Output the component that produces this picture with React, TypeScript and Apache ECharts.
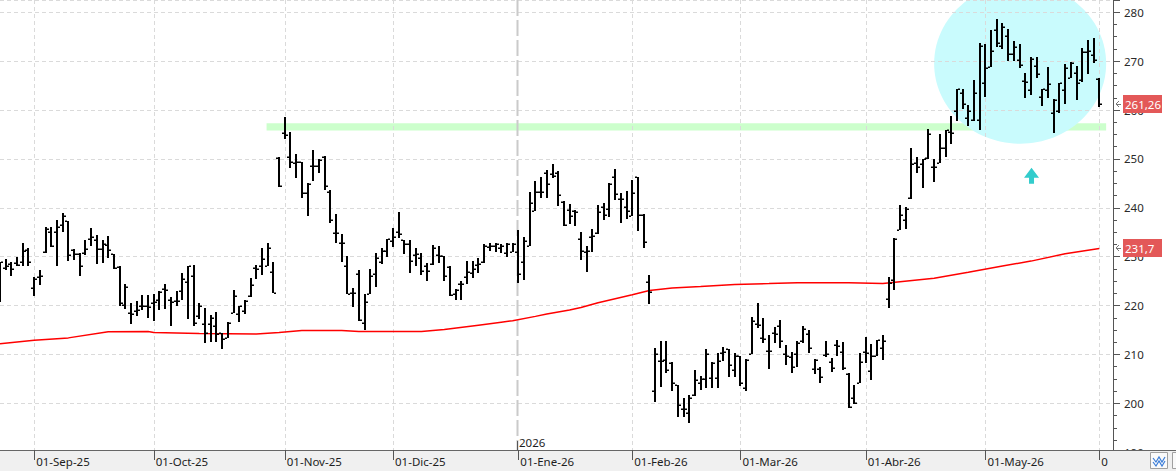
import { useEffect, useRef } from "react";
import * as echarts from "echarts";

// ---------- data (one entry per trading day) ----------
const opens = [
  221.5, 227.6, 228.5, 228.8, 229.0, 231.4, 223.7, 225.9, 230.9, 235.1,
  235.0, 236.4, 237.4, 231.4, 230.5, 230.7, 233.7, 233.4, 231.5, 232.4,
  230.5, 227.8, 220.2, 218.4, 218.8, 220.0, 219.9, 220.5, 221.2, 223.4,
  221.1, 220.9, 222.9, 224.9, 226.1, 217.8, 216.3, 216.3, 215.8, 214.3,
  213.4, 218.4, 218.2, 218.8, 221.9, 227.6, 228.1, 228.0, 226.9, 250.2,
  255.4, 250.4, 249.1, 249.4, 243.0, 248.5, 248.5, 250.3, 243.2, 234.9,
  232.8, 228.2, 222.6, 226.5, 216.5, 222.4, 226.5, 229.0, 231.2, 233.2,
  235.1, 233.5, 232.7, 230.3, 229.7, 228.0, 228.6, 230.3, 230.2, 227.8,
  222.4, 224.4, 225.8, 226.6, 228.4, 228.85, 232.0, 232.2, 231.7, 230.7,
  231.0, 231.0, 228.9, 232.2, 239.3, 243.2, 247.1, 246.9, 247.1, 241.2,
  239.5, 239.3, 233.7, 231.0, 234.0, 234.8, 240.1, 239.7, 246.4, 241.8,
  240.1, 238.3, 246.2, 238.6, 224.8, 202.6, 208.6, 208.8, 208.2, 203.8,
  198.9, 198.1, 201.7, 204.1, 205.0, 205.2, 205.2, 210.4, 211.1, 206.8,
  209.6, 203.1, 210.2, 216.2, 213.4, 210.7, 214.3, 215.8, 210.2, 209.5,
  210.2, 212.8, 214.1, 207.0, 207.0, 209.9, 208.4, 211.9, 210.6, 206.0,
  201.1, 204.1, 210.5, 206.7, 209.7, 211.4, 221.3, 225.3, 235.4, 237.6,
  242.1, 249.2, 248.9, 250.2, 248.4, 249.1, 252.3, 255.6, 259.9, 263.4,
  258.4, 257.9, 257.9, 265.6, 268.8, 276.4, 273.0, 275.1, 271.5, 270.2,
  265.9, 264.0, 269.0, 262.7, 264.0, 259.4, 259.9, 264.0, 266.5, 267.6,
  266.1, 271.9, 271.2, 266.3,
];
const highs = [
  229.0, 229.5, 228.85, 230.0, 232.8, 231.7, 225.9, 227.2, 236.0, 236.1,
  237.6, 238.9, 237.4, 231.6, 230.7, 233.5, 235.9, 234.4, 233.4, 234.3,
  230.5, 228.0, 224.4, 220.5, 220.9, 222.2, 222.2, 222.4, 222.9, 224.5,
  221.75, 222.9, 226.75, 228.1, 228.3, 220.5, 219.5, 218.0, 218.6, 214.4,
  216.6, 223.2, 220.0, 221.1, 225.6, 228.3, 231.7, 232.8, 229.0, 250.4,
  258.6, 255.6, 251.1, 249.4, 245.1, 251.8, 249.9, 250.5, 243.7, 238.7,
  234.6, 230.2, 223.7, 227.3, 222.4, 227.5, 230.7, 231.8, 233.6, 235.9,
  239.1, 233.5, 233.5, 231.7, 230.7, 228.65, 232.4, 232.2, 230.2, 228.0,
  223.4, 225.1, 229.2, 229.2, 229.7, 232.5, 232.8, 232.8, 232.5, 232.8,
  232.8, 235.5, 234.0, 243.2, 245.4, 246.4, 247.8, 248.9, 247.6, 241.3,
  240.7, 239.6, 235.1, 232.2, 235.6, 240.6, 240.95, 245.0, 247.9, 243.05,
  243.4, 245.6, 246.4, 238.8, 226.3, 211.4, 212.75, 212.75, 208.5, 203.8,
  201.1, 201.7, 206.8, 205.7, 211.1, 208.5, 210.4, 211.5, 211.1, 210.3,
  209.7, 209.0, 217.6, 220.5, 217.4, 214.0, 215.6, 217.0, 212.0, 210.5,
  212.75, 215.8, 215.0, 209.0, 207.5, 212.75, 209.2, 212.9, 212.6, 206.2,
  203.8, 210.3, 213.6, 212.1, 212.9, 214.0, 225.9, 233.8, 240.6, 240.1,
  252.3, 250.45, 250.04, 256.2, 249.9, 255.1, 256.0, 258.7, 264.4, 264.2,
  261.1, 266.1, 273.7, 273.4, 276.3, 278.6, 277.8, 276.6, 274.1, 273.6,
  267.6, 270.9, 270.9, 264.4, 268.8, 262.2, 265.6, 269.5, 269.9, 269.0,
  272.6, 274.4, 274.8, 266.5,
];
const lows = [
  220.8, 227.3, 226.1, 228.0, 228.0, 228.0, 221.9, 224.3, 230.8, 231.9,
  228.1, 235.1, 229.2, 229.3, 226.1, 230.3, 232.2, 228.6, 228.8, 229.7,
  227.5, 220.0, 219.3, 216.3, 217.8, 219.0, 217.5, 216.8, 219.0, 219.4,
  215.9, 220.0, 221.2, 217.2, 215.9, 217.2, 212.4, 212.6, 212.6, 211.1,
  213.4, 218.4, 216.6, 218.2, 221.75, 225.4, 226.3, 228.0, 222.6, 244.2,
  254.0, 248.1, 246.1, 242.0, 238.3, 245.5, 247.1, 243.7, 236.8, 232.9,
  229.0, 222.4, 219.8, 216.8, 215.0, 222.4, 223.8, 228.6, 230.0, 232.0,
  233.9, 230.5, 226.6, 228.0, 226.3, 225.1, 228.4, 228.65, 225.1, 222.0,
  221.2, 221.2, 224.4, 225.6, 226.6, 228.65, 231.1, 231.0, 230.7, 230.0,
  231.0, 224.6, 225.3, 232.2, 239.3, 242.0, 242.0, 246.0, 240.3, 236.2,
  236.6, 236.3, 229.3, 226.8, 230.9, 234.7, 237.6, 238.1, 241.5, 236.8,
  237.8, 238.3, 235.3, 231.7, 220.3, 200.2, 203.3, 206.3, 202.5, 197.3,
  197.2, 196.0, 201.5, 202.8, 203.1, 203.1, 203.1, 208.7, 205.3, 205.3,
  203.5, 202.6, 210.05, 215.5, 212.4, 207.0, 212.4, 211.3, 207.9, 206.2,
  207.4, 212.4, 210.4, 206.0, 204.1, 209.4, 206.5, 209.7, 206.8, 199.1,
  199.9, 204.1, 208.2, 204.8, 209.7, 208.9, 219.5, 223.2, 235.4, 235.7,
  241.9, 247.06, 244.0, 250.0, 245.3, 249.1, 250.4, 252.95, 257.7, 260.3,
  256.7, 257.7, 256.0, 262.7, 268.8, 272.9, 272.4, 270.1, 270.1, 268.5,
  262.4, 263.1, 266.5, 260.9, 262.4, 255.2, 259.4, 261.3, 266.5, 262.1,
  265.8, 267.4, 269.6, 260.7,
];
const closes = [
  228.9, 228.0, 227.4, 228.4, 231.2, 229.0, 225.5, 226.0, 235.7, 232.2,
  236.0, 238.4, 230.3, 230.5, 228.1, 231.5, 234.1, 231.5, 232.6, 231.4,
  227.6, 220.5, 223.9, 218.2, 219.0, 220.0, 219.7, 220.7, 222.7, 223.2,
  220.7, 220.9, 225.4, 228.0, 216.5, 220.0, 214.4, 217.5, 214.1, 213.2,
  216.5, 222.0, 219.9, 220.9, 224.2, 227.4, 229.5, 231.8, 222.6, 244.4,
  254.8, 249.3, 249.3, 243.0, 244.9, 248.5, 249.8, 244.4, 237.6, 234.9,
  232.8, 222.4, 222.5, 217.0, 220.7, 226.1, 229.7, 231.1, 233.6, 234.1,
  234.7, 232.7, 229.1, 230.5, 227.0, 227.0, 231.8, 230.2, 226.1, 222.2,
  223.2, 224.4, 226.8, 227.5, 228.6, 232.2, 232.2, 232.5, 232.2, 232.7,
  232.7, 226.4, 233.2, 241.0, 243.2, 243.2, 244.9, 246.6, 242.6, 236.4,
  238.3, 239.1, 231.2, 231.1, 234.2, 239.1, 238.5, 244.9, 242.8, 241.8,
  239.3, 243.0, 238.6, 233.0, 222.8, 210.2, 208.7, 206.8, 204.1, 199.6,
  198.9, 201.1, 204.8, 205.0, 210.2, 208.2, 208.7, 210.6, 207.9, 209.7,
  204.1, 208.8, 216.8, 216.0, 213.1, 210.7, 214.1, 212.8, 209.7, 207.5,
  212.4, 215.3, 211.3, 208.8, 205.5, 210.2, 207.2, 211.8, 207.3, 199.2,
  200.0, 208.4, 210.4, 209.7, 212.9, 212.8, 224.7, 233.6, 238.6, 239.8,
  248.9, 248.4, 249.9, 255.0, 248.4, 252.3, 255.9, 255.2, 264.2, 261.3,
  259.7, 263.4, 273.1, 268.5, 272.1, 273.7, 277.0, 271.4, 272.8, 269.2,
  265.8, 270.5, 267.3, 264.2, 265.3, 262.0, 265.5, 268.5, 269.6, 265.5,
  271.9, 272.1, 270.3, 261.26,
];

// moving average (red line), read at sample bars: [bar index, value]
const maIdx = [0, 6, 12, 19, 26, 27, 35, 45, 49, 53, 60, 63, 74, 78, 84, 88, 90, 94, 96, 100, 102, 105, 111, 114, 118, 123, 129, 135, 140, 149, 155, 158, 164, 170, 176, 181, 187, 193];
const maVal = [212.2, 212.9, 213.4, 214.65, 214.7, 214.5, 214.3, 214.2, 214.5, 214.9, 214.9, 214.7, 214.7, 215.1, 216.0, 216.6, 216.9, 217.8, 218.3, 219.1, 219.6, 220.6, 222.2, 223.1, 223.6, 223.9, 224.3, 224.5, 224.7, 224.7, 224.5, 224.9, 225.6, 226.8, 228.1, 229.1, 230.6, 231.7];

// x-axis ticks (bar index of each month start) and their labels
const monthTickIdx = [6, 27, 50, 69, 91, 111, 130, 152, 173, 193];
const monthTickLabels = ["01-Sep-25", "01-Oct-25", "01-Nov-25", "01-Dic-25", "01-Ene-26", "01-Feb-26", "01-Mar-26", "01-Abr-26", "01-May-26", "0"];
const yearLabel = "2026";
const yearBoundaryIdx = 90.7;
const yearLineTickIdx = 91;

// y-axis
const yMin = 190;
const yMax = 282.5;
const yStep = 10;

// annotations (data coordinates)
const bandFromIdx = 46.8;
const bandToIdx = 194.2;
const bandLow = 255.8;
const bandHigh = 257.3;
const ellipseCenterIdx = 179.1;
const ellipseCenterVal = 269.5;
const ellipseRadiusBars = 15.1;
const ellipseRadiusVal = 16.4;
const arrowTipIdx = 181.1;
const arrowTipVal = 248.2;

const CAT_COUNT = 196;
const categories = Array.from({ length: CAT_COUNT }, (_, i) => String(i));
const FONT = "'Noto Sans', 'Liberation Sans', Arial, sans-serif";
const FS = 11.5;

const fmt = (v: number, d: number) => v.toFixed(d).replace(".", ",");

export default function App() {
  const ref = useRef<HTMLDivElement>(null);

  useEffect(() => {
    const el = ref.current!;
    const chart = echarts.init(el, null, { renderer: "svg" });
    const tickMap = new Map<number, string>(monthTickIdx.map((i, k) => [i, monthTickLabels[k]]));

    const option: any = {
      animation: false,
      textStyle: { fontFamily: FONT },
      grid: { left: 0, right: 65.3, top: -4, bottom: 18.7, containLabel: false },
      xAxis: [
        {
          type: "category",
          data: categories,
          boundaryGap: false,
          z: 3,
          axisLine: { show: false },
          axisTick: { show: false },
          axisLabel: { show: false },
          splitLine: {
            show: true,
            interval: (i: number) => tickMap.has(i) && i !== yearLineTickIdx,
            lineStyle: { color: "#dadada", type: [4, 3], width: 1 },
          },
        },
        {
          type: "category",
          data: categories,
          boundaryGap: false,
          position: "bottom",
          offset: -2.3,
          z: 10,
          axisLine: { show: false },
          axisTick: {
            show: true,
            interval: (i: number) => tickMap.has(i),
            length: 10,
            lineStyle: { color: "#555", width: 1 },
          },
          axisLabel: {
            show: true,
            interval: (i: number) => tickMap.has(i),
            formatter: (_v: string, i: number) => tickMap.get(i) ?? "",
            align: "left",
            margin: 5,
            padding: [0, 0, 0, 2],
            color: "#1e1e1e",
            fontSize: FS,
            fontFamily: FONT,
          },
          splitLine: { show: false },
        },
      ],
      yAxis: {
        type: "value",
        position: "right",
        min: yMin,
        max: yMax,
        interval: yStep,
        offset: 2.3,
        z: 3,
        axisLine: { show: true, lineStyle: { color: "#555", width: 1 } },
        axisTick: { show: true, length: 7, lineStyle: { color: "#555" } },
        minorTick: { show: true, splitNumber: 4, length: 4, lineStyle: { color: "#555" } },
        splitLine: { show: true, lineStyle: { color: "#dadada", type: [4, 3], width: 1 } },
        axisLabel: {
          color: "#2a2a2a",
          fontSize: FS,
          fontFamily: FONT,
          margin: 11,
          formatter: (v: number) => (Math.abs(v % yStep) < 1e-6 ? String(v) : ""),
        },
      },
      series: [
        {
          type: "custom",
          name: "OHLC",
          z: 5,
          xAxisIndex: 0,
          yAxisIndex: 0,
          clip: false,
          data: opens.map((o, i) => [i, o, highs[i], lows[i], closes[i]]),
          encode: { x: 0, y: [1, 2, 3, 4] },
          renderItem: (_p: any, api: any) => {
            const i = api.value(0);
            const pH = api.coord([i, api.value(2)]);
            const pL = api.coord([i, api.value(3)]);
            const pO = api.coord([i, api.value(1)]);
            const pC = api.coord([i, api.value(4)]);
            const x = Math.round(pH[0]);
            const yH = Math.round(pH[1]);
            const yL = Math.round(pL[1]);
            return {
              type: "group",
              children: [
                { type: "rect", shape: { x: x - 1, y: yH, width: 2, height: Math.max(1, yL - yH) }, style: { fill: "#000" } },
                { type: "rect", shape: { x: x - 3, y: Math.round(pO[1]) - 0.5, width: 2, height: 1.5 }, style: { fill: "#000" } },
                { type: "rect", shape: { x: x + 1, y: Math.round(pC[1]) - 0.5, width: 2, height: 1.5 }, style: { fill: "#000" } },
              ],
            };
          },
        },
        {
          type: "line",
          name: "MA",
          z: 4,
          xAxisIndex: 0,
          yAxisIndex: 0,
          data: maIdx.map((i, k) => [i, maVal[k]]),
          showSymbol: false,
          symbol: "none",
          silent: true,
          lineStyle: { color: "#ff0000", width: 1.5 },
        },
      ],
    };

    chart.setOption(option);

    const px = (i: number, v: number) => chart.convertToPixel({ seriesIndex: 0 }, [i, v]) as number[];
    const x0 = px(0, 200)[0];
    const xN = px(CAT_COUNT - 1, 200)[0];
    const step = (xN - x0) / (CAT_COUNT - 1);
    const X = (i: number) => x0 + i * step;
    const Y = (v: number) => px(0, v)[1];

    const axisRight = 1113;
    const axisBottom = 450;

    const priceTag = (v: number, text: string) => {
      const y = Math.round(Y(v));
      return [
        { type: "rect", z: 10, shape: { x: 1123, y: y - 9, width: 39, height: 18 }, style: { fill: "#e35858" } },
        {
          type: "text",
          z: 11,
          x: 1125,
          y: y,
          style: { text, fill: "#ffffff", fontSize: FS, fontFamily: FONT, align: "left", verticalAlign: "middle", textAlign: "left", textVerticalAlign: "middle" },
        },
        { type: "polyline", z: 10, shape: { points: [[1119, y - 3], [1116, y], [1119, y + 3]] }, style: { stroke: "#777", lineWidth: 1, fill: null } },
        { type: "line", z: 10, shape: { x1: 1116, y1: y + 0.5, x2: 1121, y2: y + 0.5 }, style: { stroke: "#777", lineWidth: 1 } },
      ];
    };

    const yearX = X(yearBoundaryIdx);
    const ax = X(arrowTipIdx);
    const ay = Y(arrowTipVal);

    const elements: any[] = [
      // support band
      {
        type: "rect",
        z: 1,
        shape: { x: X(bandFromIdx), y: Y(bandHigh), width: X(bandToIdx) - X(bandFromIdx), height: Y(bandLow) - Y(bandHigh) },
        style: { fill: "#ccffcc" },
      },
      // highlight ellipse
      {
        type: "ellipse",
        z: 2,
        shape: {
          cx: X(ellipseCenterIdx),
          cy: Y(ellipseCenterVal),
          rx: X(ellipseCenterIdx + ellipseRadiusBars) - X(ellipseCenterIdx),
          ry: Y(ellipseCenterVal - ellipseRadiusVal) - Y(ellipseCenterVal),
        },
        style: { fill: "#c9fbfd" },
      },
      // year separator
      {
        type: "line",
        z: 3,
        shape: { x1: Math.round(yearX) + 0.5, y1: 0, x2: Math.round(yearX) + 0.5, y2: axisBottom },
        style: { stroke: "#cacaca", lineWidth: 2, lineDash: [16, 4] },
      },
      {
        type: "line",
        z: 9,
        shape: { x1: Math.round(yearX) + 0.5, y1: 441, x2: Math.round(yearX) + 0.5, y2: axisBottom },
        style: { stroke: "#555", lineWidth: 1 },
      },
      {
        type: "text",
        z: 9,
        x: Math.round(yearX) + 2,
        y: 442,
        style: { text: yearLabel, fill: "#1e1e1e", fontSize: FS, fontFamily: FONT, align: "left", verticalAlign: "middle", textAlign: "left", textVerticalAlign: "middle" },
      },
      // up arrow
      {
        type: "polygon",
        z: 6,
        shape: {
          points: [
            [ax, ay],
            [ax + 7.5, ay + 10],
            [ax + 2.5, ay + 10],
            [ax + 2.5, ay + 16],
            [ax - 2.5, ay + 16],
            [ax - 2.5, ay + 10],
            [ax - 7.5, ay + 10],
          ],
        },
        style: { fill: "#33cccc" },
      },
      // bottom axis strip
      { type: "rect", z: 8, shape: { x: 0, y: axisBottom, width: 1176, height: 21 }, style: { fill: "#f0f0f0" } },
      { type: "line", z: 9, shape: { x1: 0, y1: axisBottom + 0.5, x2: 1176, y2: axisBottom + 0.5 }, style: { stroke: "#666", lineWidth: 1 } },
      { type: "line", z: 9, shape: { x1: axisRight + 0.5, y1: 0, x2: axisRight + 0.5, y2: axisBottom }, style: { stroke: "#555", lineWidth: 1 } },
      // small buttons at bottom right
      { type: "rect", z: 9, shape: { x: 1150.5, y: 452.5, width: 17, height: 16 }, style: { fill: "#fafafa", stroke: "#a0a0a0", lineWidth: 1 } },
      { type: "polyline", z: 10, shape: { points: [[1153, 458], [1156, 462], [1159, 457], [1162, 462], [1165, 457]] }, style: { stroke: "#3b7dd8", lineWidth: 1.2, fill: null } },
      { type: "polyline", z: 10, shape: { points: [[1153, 462], [1156, 466], [1159, 461], [1162, 466], [1165, 461]] }, style: { stroke: "#3b7dd8", lineWidth: 1.2, fill: null } },
      { type: "rect", z: 9, shape: { x: 1172.5, y: 452.5, width: 12, height: 16 }, style: { fill: "#fafafa", stroke: "#a0a0a0", lineWidth: 1 } },
      ...priceTag(closes[closes.length - 1], fmt(closes[closes.length - 1], 2)),
      ...priceTag(maVal[maVal.length - 1], fmt(maVal[maVal.length - 1], 1)),
    ];

    chart.setOption({ graphic: { elements } });

    return () => chart.dispose();
  }, []);

  return <div ref={ref} style={{ position: "absolute", left: 0, top: 0, width: 1176, height: 471 }} />;
}
